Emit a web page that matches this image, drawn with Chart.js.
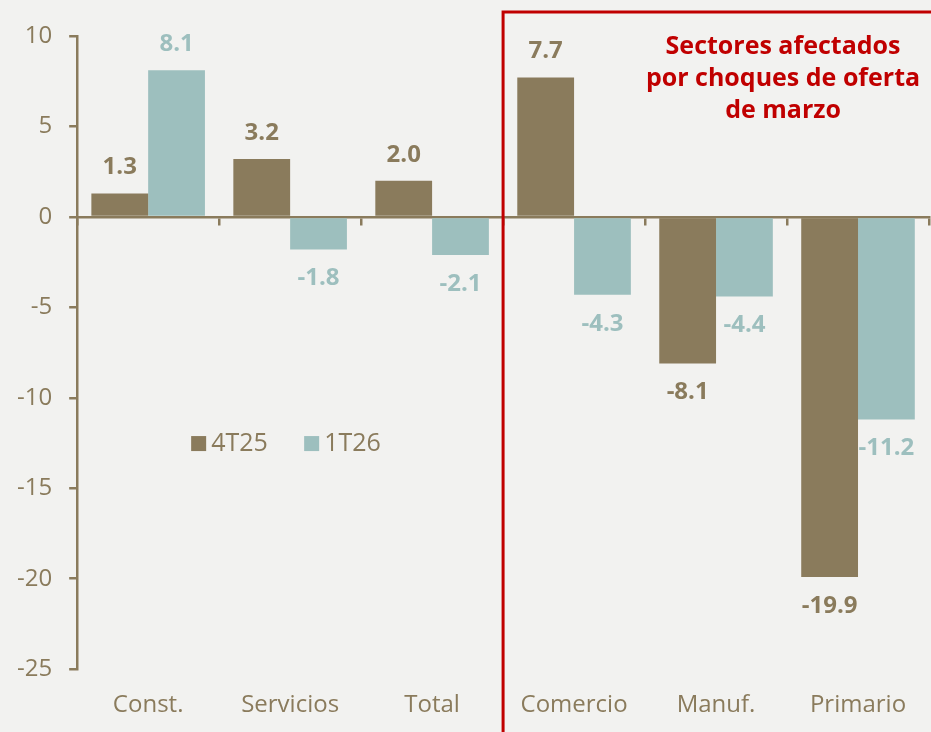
<!DOCTYPE html>
<html lang="es">
<head>
<meta charset="UTF-8">
<title>Sectores</title>
<script src="https://cdn.jsdelivr.net/npm/chart.js"></script>
<style>
    html, body { margin: 0; padding: 0; background: #f2f2f0; }
    #wrap { width: 931px; height: 732px; position: relative; }
</style>
</head>
<body>
<div id="wrap"><canvas id="chart"></canvas></div>
<script>
// data
const categories = ['Const.', 'Servicios', 'Total', 'Comercio', 'Manuf.', 'Primario'];
const serie4T25 = [1.3, 3.2, 2.0, 7.7, -8.1, -19.9];
const serie1T26 = [8.1, -1.8, -2.1, -4.3, -4.4, -11.2];
const seriesNames = ['4T25', '1T26'];
const boxTitle = ['Sectores afectados', 'por choques de oferta', 'de marzo'];

const brown = '#8a7b5c';
const teal = '#9dbfbe';
const red = '#c00000';
const fontFam = '"Open Sans", Lato, sans-serif';

// value labels above / below each bar
const valueLabels = {
    id: 'valueLabels',
    afterDatasetsDraw(chart) {
        const ctx = chart.ctx;
        ctx.save();
        ctx.font = 'bold 24px ' + fontFam;
        ctx.textAlign = 'center';
        ctx.textBaseline = 'middle';
        chart.data.datasets.forEach((ds, i) => {
            const meta = chart.getDatasetMeta(i);
            ctx.fillStyle = ds.backgroundColor;
            meta.data.forEach((bar, j) => {
                const v = ds.data[j];
                const y = v >= 0 ? bar.y - 26 : bar.y + 29;
                ctx.fillText(v.toFixed(1), bar.x, y);
            });
        });
        ctx.restore();
    }
};

// red box around the supply-shock sectors + in-chart legend
const extras = {
    id: 'extras',
    afterDraw(chart) {
        const ctx = chart.ctx;
        const x = chart.scales.x;
        const y = chart.scales.y;
        const left = (x.getPixelForValue(2) + x.getPixelForValue(3)) / 2;
        ctx.save();
        ctx.strokeStyle = red;
        ctx.lineWidth = 3;
        ctx.strokeRect(left, 12, chart.width - left + 10, chart.height);

        ctx.fillStyle = red;
        ctx.font = 'bold 25px ' + fontFam;
        ctx.textAlign = 'center';
        ctx.textBaseline = 'middle';
        const cx = (x.getPixelForValue(4) + x.getPixelForValue(5)) / 2 - 4;
        boxTitle.forEach((t, i) => ctx.fillText(t, cx, 47 + i * 32));

        // legend
        const ly = y.getPixelForValue(-12.5);
        let lx = x.getPixelForValue(0) + 43;
        ctx.font = '25px ' + fontFam;
        ctx.textAlign = 'left';
        chart.data.datasets.forEach(ds => {
            ctx.fillStyle = ds.backgroundColor;
            ctx.fillRect(lx, ly - 7, 15, 15);
            ctx.fillStyle = brown;
            ctx.fillText(ds.label, lx + 20, ly + 1);
            lx += 113;
        });
        ctx.restore();
    }
};

new Chart(document.getElementById('chart'), {
    type: 'bar',
    data: {
        labels: categories,
        datasets: [
            { label: seriesNames[0], data: serie4T25, backgroundColor: brown },
            { label: seriesNames[1], data: serie1T26, backgroundColor: teal }
        ]
    },
    options: {
        responsive: true,
        maintainAspectRatio: false,
        animation: false,
        layout: { padding: { top: 36, right: 2, bottom: -2, left: 0 } },
        datasets: { bar: { categoryPercentage: 0.8, barPercentage: 1.0 } },
        plugins: { legend: { display: false }, tooltip: { enabled: false } },
        scales: {
            x: {
                grid: { display: false },
                border: { display: false },
                ticks: { color: brown, font: { family: fontFam, size: 24 }, padding: 14 }
            },
            x0: {
                type: 'category',
                position: { y: 0 },
                offset: true,
                z: 1,
                grid: { offset: true, drawOnChartArea: false, tickLength: 7, color: brown, lineWidth: 2.5 },
                border: { display: true, color: brown, width: 2.5 },
                ticks: { display: false }
            },
            y: {
                min: -25,
                max: 10,
                ticks: { stepSize: 5, color: brown, font: { family: fontFam, size: 24 }, padding: 17 },
                grid: { drawOnChartArea: false, tickLength: 8, color: brown, lineWidth: 2.5 },
                border: { display: true, color: brown, width: 2.5 }
            }
        }
    },
    plugins: [valueLabels, extras]
});
</script>
</body>
</html>
